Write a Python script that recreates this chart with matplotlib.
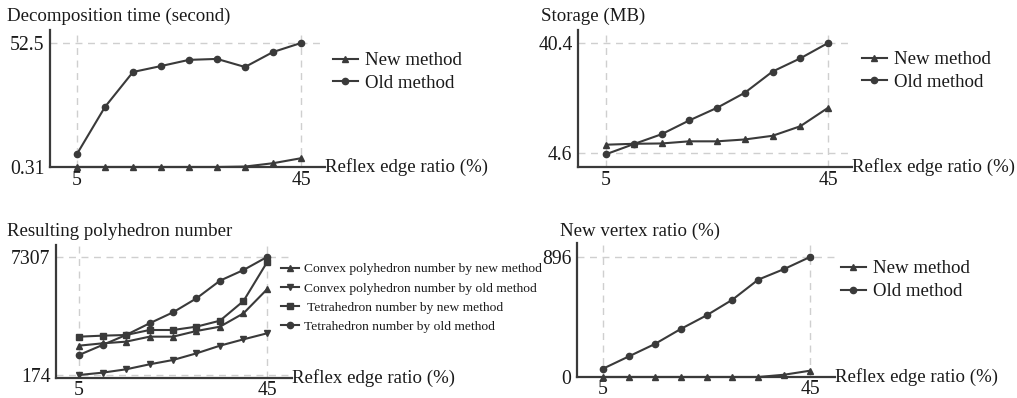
import matplotlib
matplotlib.use('Agg')
import matplotlib.pyplot as plt

plt.rcParams['font.family'] = ['Liberation Serif', 'DejaVu Serif']

W, H = 1017, 398
DPI = 100

ratio = [5, 10, 15, 20, 25, 30, 35, 40, 45]

time_new = [0.31, 0.31, 0.31, 0.31, 0.31, 0.31, 0.5, 1.9, 4.0]
time_old = [5.8, 25.6, 40.3, 42.8, 45.4, 45.8, 42.4, 48.7, 52.5]

storage_new = [7.3, 7.6, 7.7, 8.4, 8.4, 9.0, 10.2, 13.3, 19.3]
storage_old = [4.2, 7.5, 10.7, 15.2, 19.3, 24.2, 31.1, 35.4, 40.4]

convex_new = [1947, 2088, 2189, 2491, 2491, 2834, 3096, 3902, 5353]
convex_old = [174, 315, 517, 819, 1081, 1484, 1947, 2330, 2693]
tetra_new = [2491, 2552, 2592, 2894, 2894, 3096, 3458, 4647, 6985]
tetra_old = [1383, 1987, 2592, 3297, 3962, 4809, 5876, 6521, 7307]

vertex_new = [0, 0, 0, 0, 0, 0, 0, 17, 47]
vertex_old = [62, 154, 246, 358, 460, 577, 727, 806, 896]

method_labels = ['New method', 'Old method']
poly_labels = ['Convex polyhedron number by new method',
               'Convex polyhedron number by old method',
               ' Tetrahedron number by new method',
               'Tetrahedron number by old method']

LC = '#3a3a3a'
GC = '#cfcfcf'
TC = '#1a1a1a'
FS = 13.6
TFS = 14.2

fig = plt.figure(figsize=(W / DPI, H / DPI), dpi=DPI)


def make_axes(box, xpx, ypx, yvals, xpad=3):
    # box = (left, right, top, bottom) in pixels; xpx/ypx map x 5..45 and yvals to pixels
    l, r, t, b = box
    ax = fig.add_axes([l / W, 1 - b / H, (r - l) / W, (b - t) / H])
    sx = (xpx[1] - xpx[0]) / 40.0
    ax.set_xlim(5 - (xpx[0] - l) / sx, 45 + (r - xpx[1]) / sx)
    sy = (ypx[0] - ypx[1]) / (yvals[1] - yvals[0])
    ax.set_ylim(yvals[0] - (b - ypx[0]) / sy, yvals[1] + (ypx[1] - t) / sy)
    ax.set_xticks([5, 45])
    ax.set_yticks(yvals)
    ax.set_yticklabels([str(v) for v in yvals])
    ax.tick_params(length=0, labelsize=TFS, colors=TC)
    ax.tick_params(axis='x', pad=xpad)
    ax.tick_params(axis='y', pad=4)
    ax.grid(True, ls=(0, (5, 4)), color=GC, lw=1.0)
    ax.set_axisbelow(True)
    for s in ['top', 'right']:
        ax.spines[s].set_visible(False)
    for s in ['left', 'bottom']:
        ax.spines[s].set_color(LC)
        ax.spines[s].set_linewidth(1.6)
    ax.text(1.0, 0.0, 'Reflex edge ratio (%)', transform=ax.transAxes,
            ha='left', va='center', fontsize=FS, color=TC)
    return ax


def series(ax, y, marker, ms=5):
    return ax.plot(ratio, y, color=LC, lw=1.5, marker=marker, ms=ms,
                   clip_on=False, zorder=3)[0]


def legend(ax, handles, labels, x, y, fs=FS, sp=0.3):
    leg = ax.legend(handles, labels, loc='upper left',
                    bbox_to_anchor=(x / W, 1 - y / H), bbox_transform=fig.transFigure,
                    frameon=False, fontsize=fs, handlelength=1.3, handletextpad=0.4,
                    labelspacing=sp, borderpad=0, borderaxespad=0)
    for t in leg.get_texts():
        t.set_color(TC)


# Decomposition time
ax1 = make_axes((50, 325, 30, 167), (77, 301), (167, 43), [0.31, 52.5])
h1 = series(ax1, time_new, '^')
h2 = series(ax1, time_old, 'o', 4.5)
legend(ax1, [h1, h2], method_labels, 333, 52)
fig.text(7 / W, 1 - 16 / H, 'Decomposition time (second)', fontsize=FS,
         va='center', ha='left', color=TC)

# Storage
ax2 = make_axes((578, 852, 30, 167), (606, 828), (153, 43), [4.6, 40.4])
h1 = series(ax2, storage_new, '^')
h2 = series(ax2, storage_old, 'o', 4.5)
legend(ax2, [h1, h2], method_labels, 862, 51)
fig.text(541 / W, 1 - 16 / H, 'Storage (MB)', fontsize=FS, va='center',
         ha='left', color=TC)

# Resulting polyhedron number
ax3 = make_axes((56, 292, 245, 378), (79, 267), (375, 257), [174, 7307], xpad=2)
hs = [series(ax3, convex_new, '^'), series(ax3, convex_old, 'v'),
      series(ax3, tetra_new, 's', 4.5), series(ax3, tetra_old, 'o', 4.5)]
legend(ax3, hs, poly_labels, 281, 263, fs=9.7, sp=0.5)
fig.text(7 / W, 1 - 231 / H, 'Resulting polyhedron number', fontsize=FS,
         va='center', ha='left', color=TC)

# New vertex ratio
ax4 = make_axes((577, 835, 243, 377), (603, 810), (377, 257), [0, 896], xpad=2)
h1 = series(ax4, vertex_new, '^')
h2 = series(ax4, vertex_old, 'o', 4.5)
legend(ax4, [h1, h2], method_labels, 841, 260)
fig.text(560 / W, 1 - 231 / H, 'New vertex ratio (%)', fontsize=FS,
         va='center', ha='left', color=TC)

fig.savefig('out.png', dpi=DPI)
